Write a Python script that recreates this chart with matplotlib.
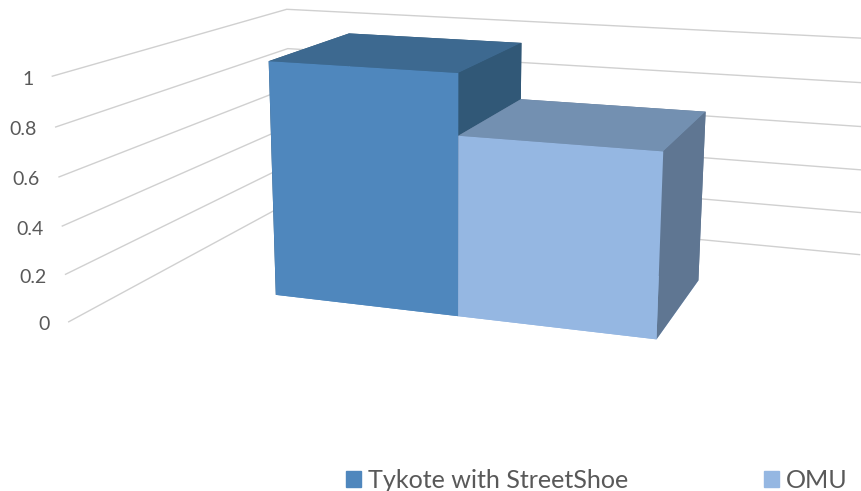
import numpy as np
import matplotlib
matplotlib.use("Agg")
import matplotlib.pyplot as plt
from matplotlib.patches import Patch

categories = ["Tykote with StreetShoe", "OMU"]
values = [1.0, 0.75]
y_ticks = [0, 0.2, 0.4, 0.6, 0.8, 1]
y_tick_labels = ["0", "0.2", "0.4", "0.6", "0.8", "1"]

front_colors = ["#4F87BD", "#95B7E2"]
top_colors = ["#3D6990", "#7390B1"]
side_colors = ["#315877", "#5F7692"]
grid_color = "#D0D0D0"
text_color = "#595959"

W, H = 862, 491

# camera calibration: (x, depth, value) -> pixel in the reference
calib = [
    ((0, 0, 1), (268.7, 61.3)),
    ((1, 0, 1), (458.3, 72.7)),
    ((0, 1, 1), (349.3, 33.3)),
    ((1, 1, 1), (521.0, 42.7)),
    ((0, 0, 0), (275.7, 295.0)),
    ((1, 0, 0), (458.0, 316.0)),
    ((2, 0, 0), (656.7, 339.0)),
    ((2, 1, 0), (698.3, 280.7)),
    ((2, 0, 0.75), (663.3, 151.7)),
    ((2, 1, 0.75), (705.7, 111.7)),
    ((1, 1, 0.75), (521.0, 99.3)),
    ((1, 0, 0.75), (458.3, 136.0)),
]


def fit_camera(points):
    rows = []
    for (x, y, z), (px, py) in points:
        u, v = px, H - py
        rows.append([x, y, z, 1, 0, 0, 0, 0, -u*x, -u*y, -u*z, -u])
        rows.append([0, 0, 0, 0, x, y, z, 1, -v*x, -v*y, -v*z, -v])
    cam = np.linalg.svd(np.array(rows, dtype=float))[2][-1].reshape(3, 4)
    # w has to be positive in front of the camera
    if cam[2] @ np.array([0, 0, 0, 1.0]) < 0:
        cam = -cam
    return cam


cam = fit_camera(calib)


def project(x, y, z):
    u, v, w = cam @ np.array([x, y, z, 1.0])
    return u / w, v / w


def on_plane(px, py, z):
    # x and depth of a picture point, at a known value
    u, v = px, H - py
    a = np.array([cam[0][:2] - u * cam[2][:2], cam[1][:2] - v * cam[2][:2]])
    b = -np.array([cam[0][2:] @ [z, 1] - u * cam[2][2:] @ [z, 1],
                   cam[1][2:] @ [z, 1] - v * cam[2][2:] @ [z, 1]])
    return np.linalg.solve(a, b)


x_left, y_back = on_plane(286.7, 9.3, 1)
x_right = on_plane(859, 256, 0)[0]

# depth where the left wall reaches pixel x = 52.3 at value 1
row = cam[0] - 52.3 * cam[2]
y_front = -(row[0] * x_left + row[2] + row[3]) / row[1]

fig = plt.figure(figsize=(W / 100, H / 100), dpi=100)
ax = fig.add_axes([0, 0, 1, 1], projection="3d")
ax.set_axis_off()
ax.computed_zorder = False


def get_proj():
    # pixels -> the 2d view coordinates of the 3d axes
    to_view = np.linalg.inv(ax.transData.get_matrix())
    m = np.zeros((4, 4))
    m[0] = to_view[0, 0] * cam[0] + to_view[0, 2] * cam[2]
    m[1] = to_view[1, 1] * cam[1] + to_view[1, 2] * cam[2]
    m[3] = cam[2]
    # z/w stays negative and grows with distance, as mplot3d expects
    m[2] = np.array([0, 0, 0, -cam[2, 3]])
    return m


ax.get_proj = get_proj

for t in y_ticks:
    line = ax.plot([x_left, x_left, x_right], [y_front, y_back, y_back], [t, t, t],
                   color=grid_color, lw=1.0, zorder=1)[0]
    line.set_clip_on(False)

for i, val in enumerate(values):
    # bottom, top, front, back, left, right
    faces = [front_colors[i], top_colors[i], front_colors[i],
             side_colors[i], side_colors[i], side_colors[i]]
    bar = ax.bar3d(i, 0, 0, 1, 1, val, color=faces, shade=False, zorder=2 + i)
    bar.set_clip_on(False)

plt.rcParams["font.family"] = "Lato"

for t, lab in zip(y_ticks, y_tick_labels):
    u, v = project(x_left, y_front, t)
    fig.text((u - 19) / W, (v - 3) / H, lab, ha="right", va="center",
             fontsize=14, color=text_color)

handles = [Patch(color=front_colors[0]), Patch(color=front_colors[1])]
fig.legend(handles, categories, ncols=2, loc="lower left",
           bbox_to_anchor=(345.7 / W, -0.5 / H), frameon=False, fontsize=18.1,
           labelcolor=text_color, handlelength=0.61, handleheight=0.61,
           handletextpad=0.28, columnspacing=5.39, borderpad=0, borderaxespad=0)

fig.savefig("out.png", dpi=100)
